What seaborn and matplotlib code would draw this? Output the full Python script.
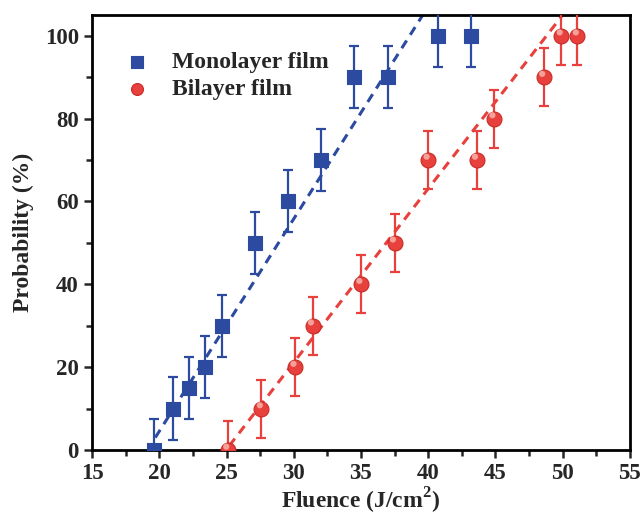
import numpy as np
import pandas as pd
import matplotlib
matplotlib.use("Agg")
import matplotlib.pyplot as plt
from matplotlib.ticker import MultipleLocator
import seaborn as sns

# data
mono_x = [19.6, 21.0, 22.2, 23.4, 24.7, 27.1, 29.6, 32.0, 34.5, 37.0, 40.7, 43.2]
mono_y = [0, 10, 15, 20, 30, 50, 60, 70, 90, 90, 100, 100]
mono_err = 7.5

bi_x = [25.1, 27.6, 30.1, 31.4, 35.0, 37.5, 40.0, 43.6, 44.9, 48.6, 49.9, 51.1]
bi_y = [0, 10, 20, 30, 40, 50, 70, 70, 80, 90, 100, 100]
bi_err = 7.0

# dashed fit lines (end points)
mono_fit_x = [19.7, 39.6]
mono_fit_y = [3, 105]
bi_fit_x = [25.2, 50.0]
bi_fit_y = [1, 105]

blue = "#2b4aa0"
red = "#e8403c"

sns.set_style("ticks")
plt.rcParams["font.family"] = ["Liberation Serif", "DejaVu Serif"]
plt.rcParams["font.weight"] = "bold"
plt.rcParams["mathtext.fontset"] = "custom"
plt.rcParams["mathtext.bf"] = "Liberation Serif:bold"
plt.rcParams["mathtext.rm"] = "Liberation Serif:bold"

fig = plt.figure(figsize=(6.44, 5.17), dpi=100)
ax = fig.add_axes([0.143, 0.1296, 0.835, 0.8414])

mono = pd.DataFrame({"x": mono_x, "y": mono_y})
bi = pd.DataFrame({"x": bi_x, "y": bi_y})

sns.lineplot(x=mono_fit_x, y=mono_fit_y, ax=ax, color=blue, lw=2.2,
             linestyle=(0, (3, 2.2)))
sns.lineplot(x=bi_fit_x, y=bi_fit_y, ax=ax, color=red, lw=2.2,
             linestyle=(0, (3, 2.2)))

ax.errorbar(mono.x, mono.y, yerr=mono_err, fmt="none", ecolor=blue,
            elinewidth=1.6, capsize=3.5, capthick=1.6, zorder=3)
ax.errorbar(bi.x, bi.y, yerr=bi_err, fmt="none", ecolor=red,
            elinewidth=1.6, capsize=3.5, capthick=1.6, zorder=3)

sns.scatterplot(data=mono, x="x", y="y", ax=ax, marker="s", s=100,
                color=blue, edgecolor=blue, label="Monolayer film", zorder=4)
sns.scatterplot(data=bi, x="x", y="y", ax=ax, marker="o", s=115,
                color=red, edgecolor="#c82a26", linewidth=0.8,
                label="Bilayer film", zorder=4)
# highlight on the spheres
ax.scatter(np.array(bi_x) - 0.12, np.array(bi_y) + 0.8, s=20,
           color="#f6a09a", edgecolor="none", zorder=5)

ax.set_xlim(15, 55)
ax.set_ylim(0, 105)
ax.xaxis.set_major_locator(MultipleLocator(5))
ax.xaxis.set_minor_locator(MultipleLocator(2.5))
ax.yaxis.set_major_locator(MultipleLocator(20))
ax.yaxis.set_minor_locator(MultipleLocator(10))
ax.tick_params(which="both", direction="out", width=1.8, top=False, right=False,
               labelsize=16.5)
ax.tick_params(which="major", length=6)
ax.tick_params(which="minor", length=4)
for lab in ax.get_xticklabels() + ax.get_yticklabels():
    lab.set_fontweight("bold")
for s in ax.spines.values():
    s.set_linewidth(2)
    s.set_color("black")

ax.set_xlabel("Fluence (J/cm$^{\\mathbf{2}}$)", fontsize=17, fontweight="bold", labelpad=1)
ax.set_ylabel("Probability (%)", fontsize=17, fontweight="bold", labelpad=8)

leg = ax.legend(loc="upper left", bbox_to_anchor=(0.0, 0.965), frameon=False,
                prop={"size": 17, "weight": "bold"}, handletextpad=0.5,
                labelspacing=0.25, markerscale=0.8)

fig.savefig("out.png", dpi=100)
